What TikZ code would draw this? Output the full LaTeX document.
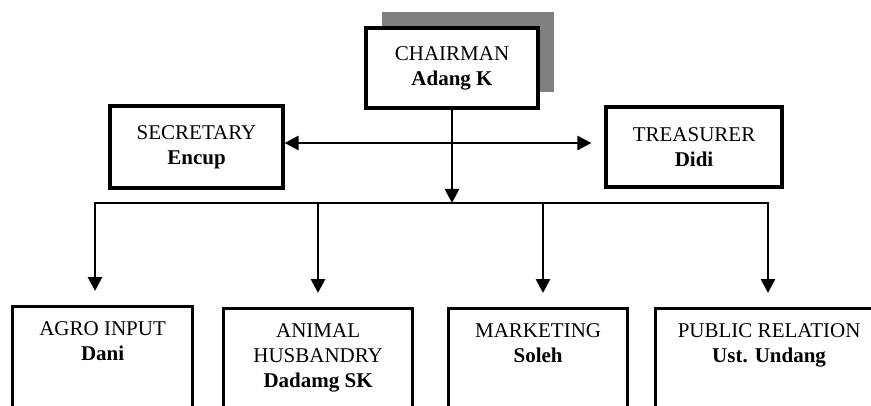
\documentclass[tikz,border=0pt]{standalone}
\usepackage{fontspec}
\setmainfont{Liberation Serif}
\usetikzlibrary{arrows.meta,shadows}

\begin{document}
\begin{tikzpicture}[x=0.5pt,y=-0.5pt,>={Triangle[width=7pt,length=7pt]},
	post/.style={draw,line width=1.6pt,fill=white,align=center,inner sep=0pt,font=\fontsize{10.5}{12.5}\selectfont},
	unit/.style={draw,line width=1.6pt,anchor=north west,minimum height=60pt,inner sep=0pt},
	unittext/.style={anchor=north,align=center,inner sep=0pt,font=\fontsize{10.5}{12.5}\selectfont},
	link/.style={line width=1.4pt}]

\useasboundingbox (0,0) rectangle (871,406);
\clip (0,0) rectangle (871,406);

\node[post,minimum width=86pt,minimum height=40pt,
	drop shadow={shadow xshift=8pt,shadow yshift=8pt,fill=gray,opacity=1}] (chair) at (452,68) {CHAIRMAN\\\textbf{Adang K}};
\node[post,minimum width=86.5pt,minimum height=41pt] (sec) at (196.5,147) {SECRETARY\\\textbf{Encup}};
\node[post,minimum width=88pt,minimum height=40pt] (tre) at (694,147) {TREASURER\\\textbf{Didi}};

\node[unit,minimum width=90pt] (agro) at (11,305) {};
\node[unittext] (agrotxt) at ([yshift=-8pt]agro.north) {AGRO INPUT\\\textbf{Dani}};
\node[unit,minimum width=94.5pt] (anim) at (222,307) {};
\node[unittext] (animtxt) at ([yshift=-8pt]anim.north) {ANIMAL\\HUSBANDRY\\\textbf{Dadamg SK}};
\node[unit,minimum width=89.5pt] (mkt) at (447,307) {};
\node[unittext] (mkttxt) at ([yshift=-8pt]mkt.north) {MARKETING\\\textbf{Soleh}};
\node[unit,minimum width=113.5pt] (pub) at (654,307) {};
\node[unittext] (pubtxt) at ([yshift=-8pt]pub.north) {PUBLIC RELATION\\\textbf{Ust. Undang}};

\coordinate (bus) at (chair.south |- 0,203);
\coordinate (busL) at (95,203);
\coordinate (busR) at (768,203);

\draw[link,->] (chair.south) -- (bus);
\draw[link,<->,shorten >=6.5pt] (sec.east |- 0,143) -- (tre.west |- 0,143);

\draw[link,<->,shorten <=7pt,shorten >=7pt] (busL |- agro.north) -- (busL) -- (busR) -- (busR |- pub.north);
\foreach \x/\n in {318/anim,543/mkt}{
	\draw[link,->,shorten >=7pt] (\x,203) -- (\x,0 |- \n.north);
}

\end{tikzpicture}
\end{document}
